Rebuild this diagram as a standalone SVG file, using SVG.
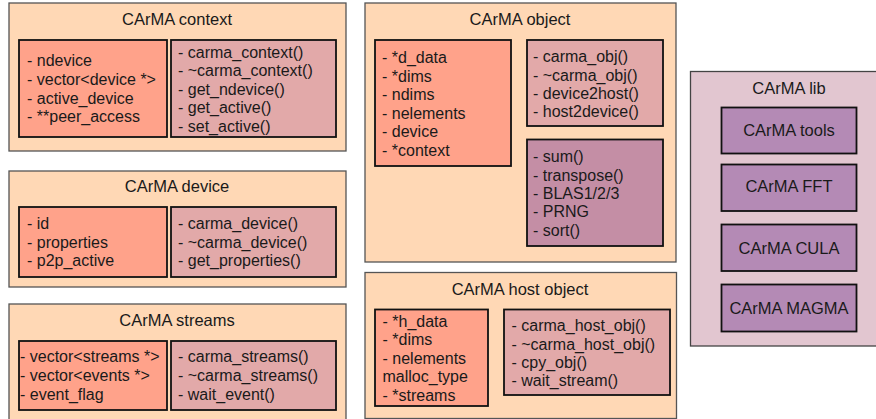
<svg xmlns="http://www.w3.org/2000/svg" width="876" height="419" viewBox="0 0 876 419">
<style>
text{font-family:"Liberation Sans",Arial,sans-serif;font-size:16px;fill:#1a1a1a}
.t{text-anchor:middle;font-size:16.5px}
.outer{fill:#ffd8b5;stroke:#555;stroke-width:1.3}
.lib{fill:#e2c6d0;stroke:#444;stroke-width:1.3}
.attr{fill:#ffa28a;stroke:#111;stroke-width:1.8}
.meth{fill:#e2a9a9;stroke:#111;stroke-width:1.8}
.ops{fill:#c48ea5;stroke:#111;stroke-width:1.8}
.mod{fill:#b48ab5;stroke:#111;stroke-width:1.8}
</style>
<rect width="876" height="419" fill="#fff"/>
<g id="carma-context">
<rect class="outer" x="9" y="3" width="337" height="148"/>
<text class="t" x="177" y="25">CArMA context</text>
<rect class="attr" x="19" y="40" width="148" height="97"/>
<text x="27" y="66">- ndevice</text>
<text x="27" y="85">- vector&lt;device *&gt;</text>
<text x="27" y="104">- active_device</text>
<text x="27" y="122">- **peer_access</text>
<rect class="meth" x="171" y="40" width="165" height="97"/>
<text x="178" y="57.5">- carma_context()</text>
<text x="178" y="76">- ~carma_context()</text>
<text x="178" y="94.5">- get_ndevice()</text>
<text x="178" y="113">- get_active()</text>
<text x="178" y="131.5">- set_active()</text>
</g>
<g id="carma-device">
<rect class="outer" x="9" y="171" width="337" height="116"/>
<text class="t" x="177" y="192">CArMA device</text>
<rect class="attr" x="19" y="207" width="148" height="70"/>
<text x="27" y="229">- id</text>
<text x="27" y="247.5">- properties</text>
<text x="27" y="266">- p2p_active</text>
<rect class="meth" x="171" y="207" width="165" height="70"/>
<text x="178" y="229">- carma_device()</text>
<text x="178" y="247.5">- ~carma_device()</text>
<text x="178" y="266">- get_properties()</text>
</g>
<g id="carma-streams">
<rect class="outer" x="9" y="304" width="337" height="120"/>
<text class="t" x="177" y="326">CArMA streams</text>
<rect class="attr" x="19" y="341" width="148" height="69"/>
<text x="20" y="362">- vector&lt;streams *&gt;</text>
<text x="20" y="381">- vector&lt;events *&gt;</text>
<text x="20" y="400">- event_flag</text>
<rect class="meth" x="171" y="341" width="165" height="69"/>
<text x="178" y="362">- carma_streams()</text>
<text x="178" y="381">- ~carma_streams()</text>
<text x="178" y="400">- wait_event()</text>
</g>
<g id="carma-object">
<rect class="outer" x="365" y="3" width="311" height="259"/>
<text class="t" x="520" y="25">CArMA object</text>
<rect class="attr" x="375" y="40" width="136" height="126"/>
<text x="382" y="63">- *d_data</text>
<text x="382" y="81.5">- *dims</text>
<text x="382" y="100">- ndims</text>
<text x="382" y="119">- nelements</text>
<text x="382" y="137">- device</text>
<text x="382" y="156">- *context</text>
<rect class="meth" x="527" y="40" width="136" height="86"/>
<text x="533" y="62">- carma_obj()</text>
<text x="533" y="80.5">- ~carma_obj()</text>
<text x="533" y="99">- device2host()</text>
<text x="533" y="117">- host2device()</text>
<rect class="ops" x="527" y="139.5" width="136" height="106.5"/>
<text x="533" y="162">- sum()</text>
<text x="533" y="180.5">- transpose()</text>
<text x="533" y="199">- BLAS1/2/3</text>
<text x="533" y="217">- PRNG</text>
<text x="533" y="235.5">- sort()</text>
</g>
<g id="carma-host-object">
<rect class="outer" x="365" y="272.5" width="311.5" height="146"/>
<text class="t" x="520" y="295">CArMA host object</text>
<rect class="attr" x="375" y="309.5" width="113" height="96.5"/>
<text x="382.5" y="326.5">- *h_data</text>
<text x="382.5" y="345">- *dims</text>
<text x="382.5" y="363.5">- nelements</text>
<text x="382.5" y="382">malloc_type</text>
<text x="382.5" y="400.5">- *streams</text>
<rect class="meth" x="504" y="309.5" width="166" height="85.5"/>
<text x="511.5" y="331">- carma_host_obj()</text>
<text x="511.5" y="349.5">- ~carma_host_obj()</text>
<text x="511.5" y="368">- cpy_obj()</text>
<text x="511.5" y="386">- wait_stream()</text>
</g>
<g id="carma-lib">
<rect class="lib" x="690.5" y="71.5" width="200" height="274.5"/>
<text class="t" x="789" y="94">CArMA lib</text>
<g id="carma-tools"><rect class="mod" x="721.5" y="107.5" width="135" height="46"/><text class="t" x="789" y="135.5">CArMA tools</text></g>
<g id="carma-fft"><rect class="mod" x="721.5" y="164.5" width="135" height="46.5"/><text class="t" x="789" y="192">CArMA FFT</text></g>
<g id="carma-cula"><rect class="mod" x="721.5" y="224.5" width="135" height="46.5"/><text class="t" x="789" y="253.5">CArMA CULA</text></g>
<g id="carma-magma"><rect class="mod" x="721.5" y="284.5" width="135" height="47"/><text class="t" x="789" y="313.5">CArMA MAGMA</text></g>
</g>
<g id="connectors"></g>
</svg>
